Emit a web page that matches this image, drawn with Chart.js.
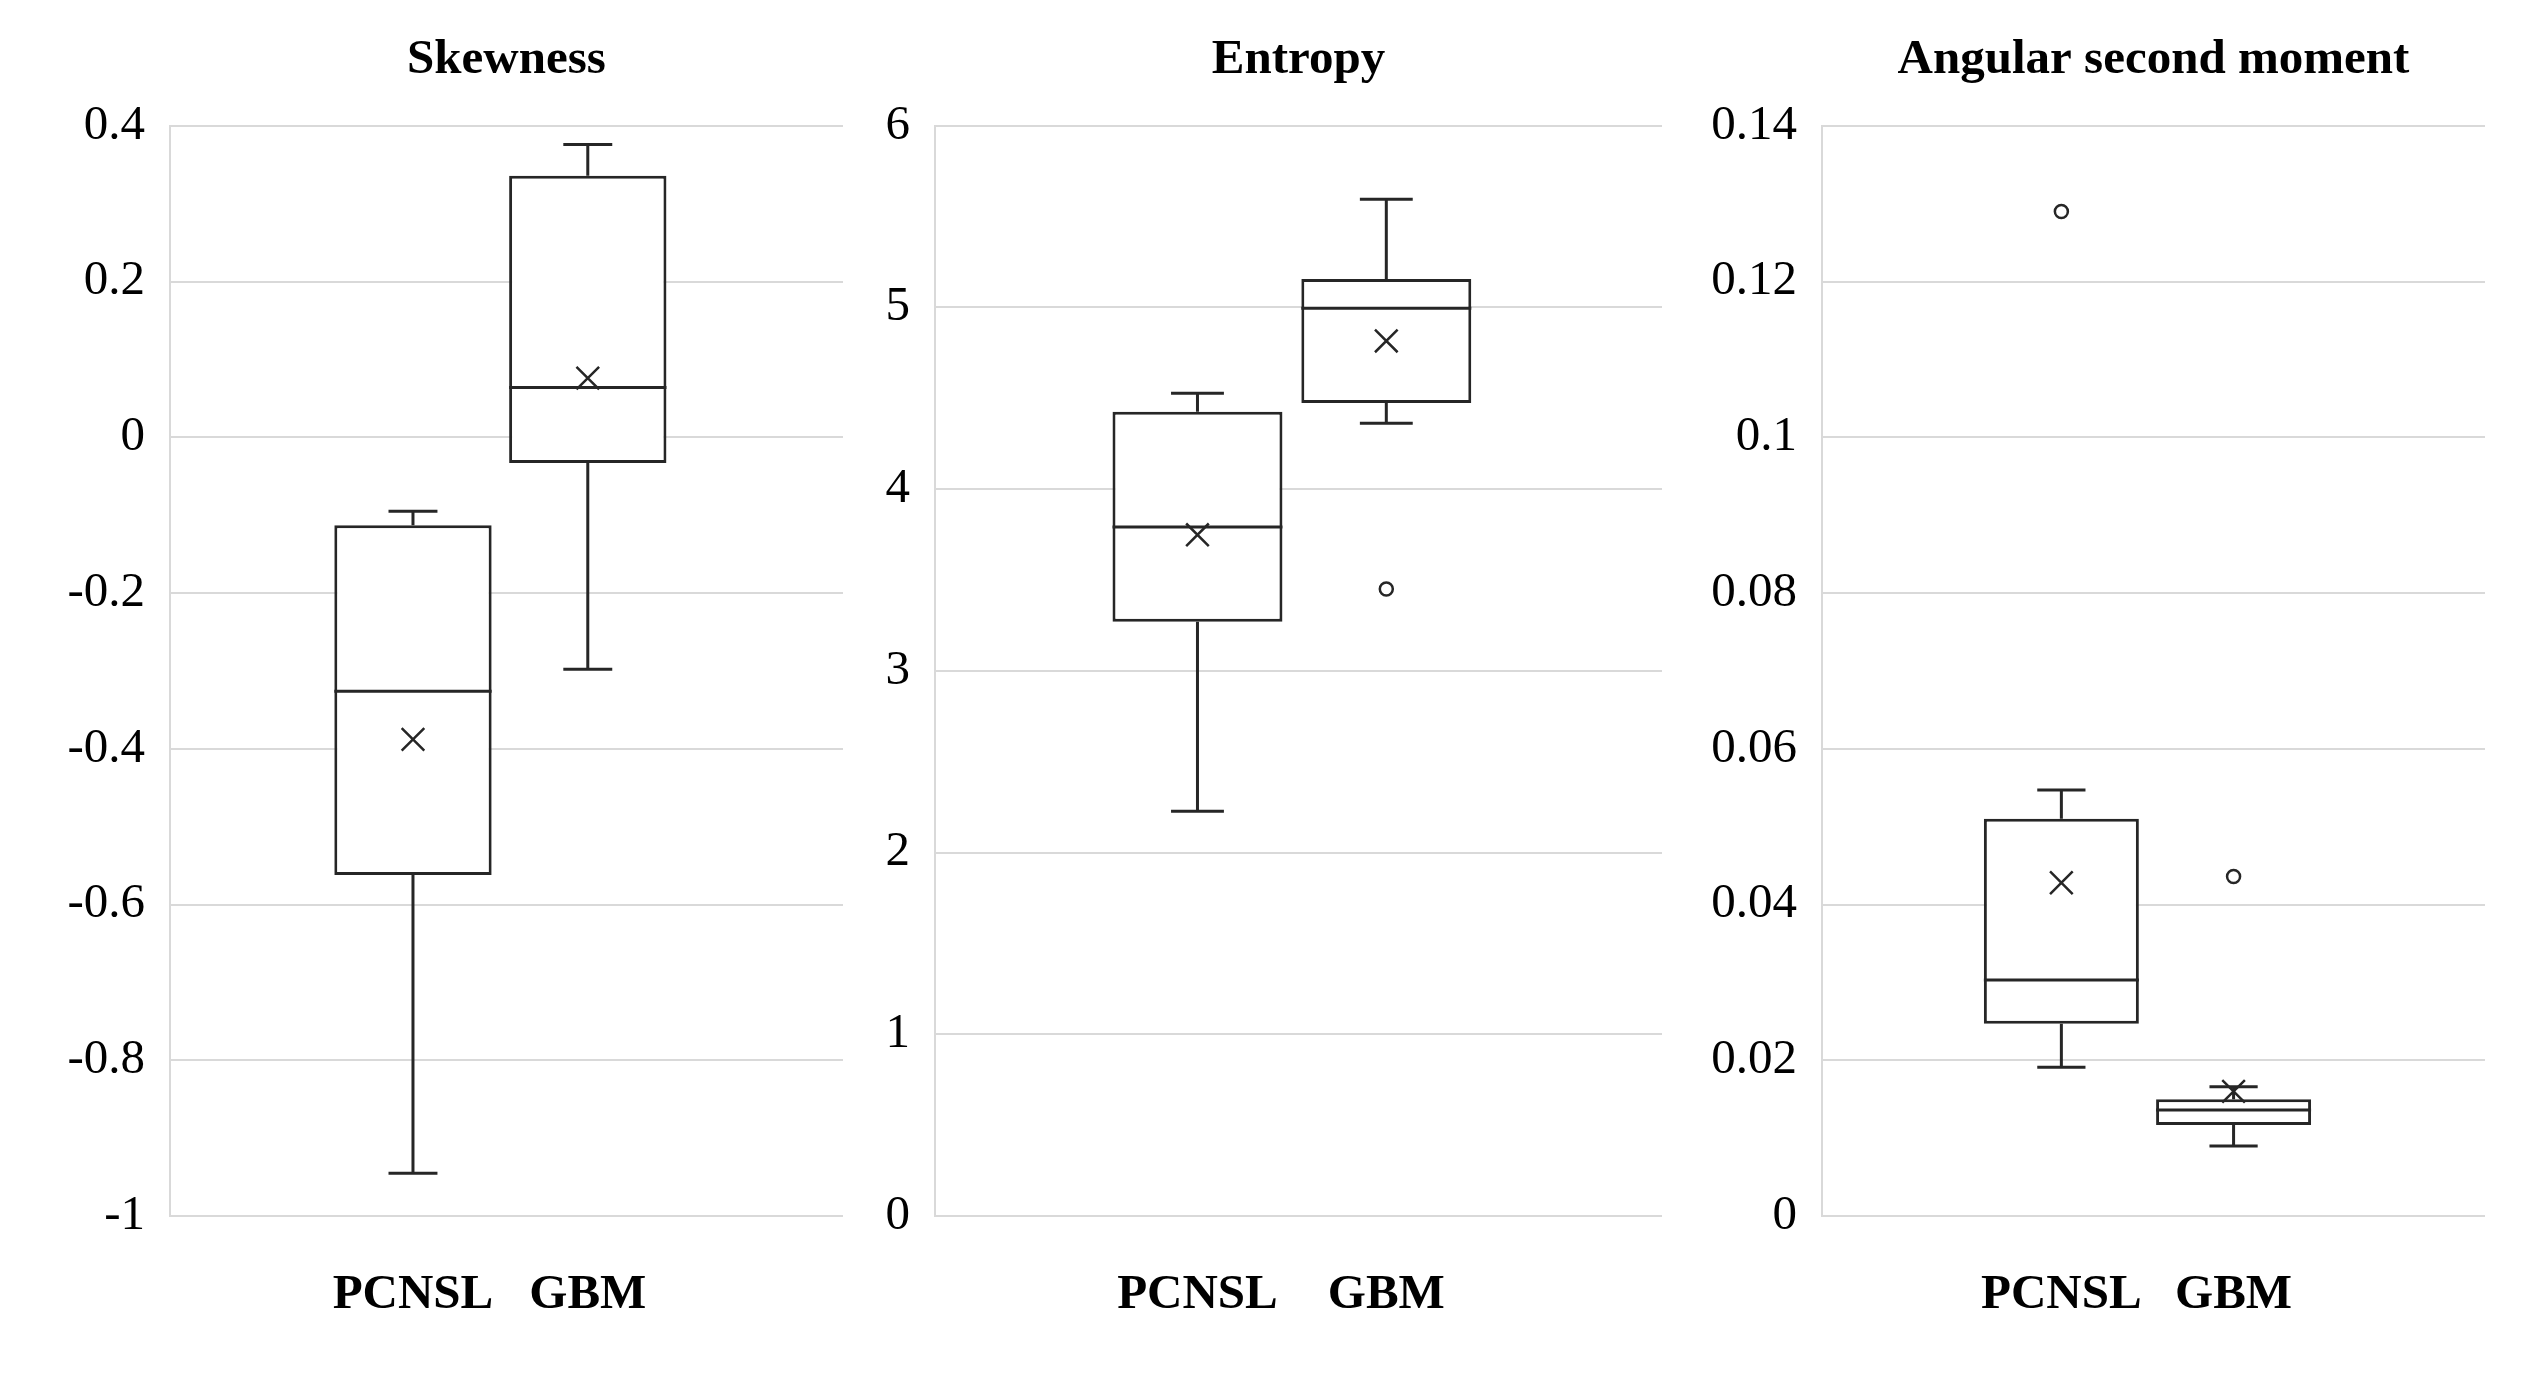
<!DOCTYPE html>
<html>
<head>
<meta charset="utf-8">
<title>Skewness, Entropy, Angular second moment</title>
<script src="https://cdn.jsdelivr.net/npm/chart.js@4"></script>
<style>
  html, body { margin: 0; padding: 0; background: #ffffff; }
  body { width: 2525px; height: 1391px; position: relative; overflow: hidden; }
  .panel { position: absolute; top: 0; height: 1391px; }
</style>
</head>
<body>
<div class="panel" id="p1" style="left:0px;width:880px;"><canvas id="skewChart"></canvas></div>
<div class="panel" id="p2" style="left:880px;width:820px;"><canvas id="entropyChart"></canvas></div>
<div class="panel" id="p3" style="left:1700px;width:825px;"><canvas id="asmChart"></canvas></div>
<script>
// Groups
const groups = ["PCNSL", "GBM"];

// Skewness
const skewMin = [-0.945, -0.298];
const skewQ1 = [-0.562, -0.033];
const skewMedian = [-0.326, 0.064];
const skewQ3 = [-0.113, 0.336];
const skewMax = [-0.095, 0.376];
const skewMean = [-0.388, 0.076];
const skewOutliers = [[], []];
const skewTicks = [-1, -0.8, -0.6, -0.4, -0.2, 0, 0.2, 0.4];
const skewTickLabels = ["-1", "-0.8", "-0.6", "-0.4", "-0.2", "0", "0.2", "0.4"];

// Entropy
const entMin = [2.228, 4.363];
const entQ1 = [3.271, 4.475];
const entMedian = [3.792, 4.996];
const entQ3 = [4.426, 5.157];
const entMax = [4.528, 5.596];
const entMean = [3.749, 4.816];
const entOutliers = [[], [3.451]];
const entTicks = [0, 1, 2, 3, 4, 5, 6];
const entTickLabels = ["0", "1", "2", "3", "4", "5", "6"];

// Angular second moment
const asmMin = [0.0191, 0.0090];
const asmQ1 = [0.0247, 0.0117];
const asmMedian = [0.0303, 0.0136];
const asmQ3 = [0.0510, 0.0150];
const asmMax = [0.0547, 0.0166];
const asmMean = [0.0428, 0.0160];
const asmOutliers = [[0.129], [0.0436]];
const asmTicks = [0, 0.02, 0.04, 0.06, 0.08, 0.1, 0.12, 0.14];
const asmTickLabels = ["0", "0.02", "0.04", "0.06", "0.08", "0.1", "0.12", "0.14"];

const lineColor = "#262626";
const gridColor = "#d9d9d9";
const fontFamily = "'Liberation Serif', 'Times New Roman', serif";

// whiskers and median line, drawn right after the box bars
function whiskerPlugin(mins, medians, q1s, q3s, maxs) {
  return {
    id: "whiskers",
    afterDatasetDraw: function (chart, args) {
      if (args.index !== 0) return;
      const ctx = chart.ctx;
      const xScale = chart.scales.x;
      const yScale = chart.scales.y;
      const bars = chart.getDatasetMeta(0).data;

      ctx.save();
      ctx.strokeStyle = lineColor;
      ctx.lineWidth = 3;
      ctx.lineCap = "butt";

      groups.forEach(function (g, i) {
        const cx = xScale.getPixelForValue(i + 1);
        const capHalf = xScale.getPixelForValue(i + 1.14) - cx;
        const boxHalf = bars[i].width / 2;

        const yMin = yScale.getPixelForValue(mins[i]);
        const yQ1 = yScale.getPixelForValue(q1s[i]);
        const yQ3 = yScale.getPixelForValue(q3s[i]);
        const yMax = yScale.getPixelForValue(maxs[i]);
        const yMed = yScale.getPixelForValue(medians[i]);

        ctx.beginPath();
        // lower whisker + cap
        ctx.moveTo(cx, yQ1);
        ctx.lineTo(cx, yMin);
        ctx.moveTo(cx - capHalf, yMin);
        ctx.lineTo(cx + capHalf, yMin);
        // upper whisker + cap
        ctx.moveTo(cx, yQ3);
        ctx.lineTo(cx, yMax);
        ctx.moveTo(cx - capHalf, yMax);
        ctx.lineTo(cx + capHalf, yMax);
        // median
        ctx.moveTo(cx - boxHalf, yMed);
        ctx.lineTo(cx + boxHalf, yMed);
        ctx.stroke();
      });

      ctx.restore();
    }
  };
}

function makeBoxChart(canvasId, title, yWidth, padRight, stats, ticks, tickLabels) {
  const boxData = groups.map(function (g, i) {
    return { x: i + 1, y: [stats.q1[i], stats.q3[i]] };
  });
  const meanData = groups.map(function (g, i) {
    return { x: i + 1, y: stats.mean[i] };
  });
  const outlierData = [];
  groups.forEach(function (g, i) {
    stats.outliers[i].forEach(function (v) {
      outlierData.push({ x: i + 1, y: v });
    });
  });

  return new Chart(document.getElementById(canvasId), {
    type: "bar",
    data: {
      datasets: [
        {
          label: "box",
          data: boxData,
          order: 2,
          backgroundColor: "#ffffff",
          borderColor: lineColor,
          borderWidth: 3,
          borderSkipped: false,
          categoryPercentage: 1,
          barPercentage: 0.9
        },
        {
          type: "scatter",
          label: "mean",
          data: meanData,
          order: 1,
          pointStyle: "crossRot",
          pointRadius: 16,
          pointBorderWidth: 2.5,
          pointBorderColor: lineColor,
          pointBackgroundColor: lineColor
        },
        {
          type: "scatter",
          label: "outliers",
          data: outlierData,
          order: 0,
          pointStyle: "circle",
          pointRadius: 6.5,
          pointBorderWidth: 2.5,
          pointBorderColor: lineColor,
          pointBackgroundColor: "#ffffff"
        }
      ]
    },
    options: {
      responsive: true,
      maintainAspectRatio: false,
      devicePixelRatio: 1,
      animation: false,
      layout: { padding: { top: 0, right: padRight, bottom: 0, left: 0 } },
      plugins: {
        legend: { display: false },
        tooltip: { enabled: false },
        title: {
          display: true,
          text: title,
          fullSize: false,
          color: "#000000",
          font: { family: fontFamily, size: 49, weight: "bold", lineHeight: 1.2 },
          padding: { top: 31, bottom: 36 }
        }
      },
      scales: {
        x: {
          type: "linear",
          min: -0.39,
          max: 3.46,
          offset: false,
          grid: { display: false, drawTicks: false },
          border: { display: false },
          afterBuildTicks: function (scale) {
            scale.ticks = groups.map(function (g, i) {
              return { value: i + 1 };
            });
          },
          afterFit: function (scale) {
            scale.height = 175;
          },
          ticks: {
            padding: 50,
            autoSkip: false,
            maxRotation: 0,
            color: "#000000",
            font: { family: fontFamily, size: 49, weight: "bold" },
            callback: function (value, index) {
              return groups[index];
            }
          }
        },
        y: {
          type: "linear",
          min: ticks[0],
          max: ticks[ticks.length - 1],
          grid: { color: gridColor, lineWidth: 2, drawTicks: false },
          border: { display: true, color: gridColor, width: 2 },
          afterBuildTicks: function (scale) {
            scale.ticks = ticks.map(function (v) {
              return { value: v };
            });
          },
          afterFit: function (scale) {
            scale.width = yWidth;
          },
          ticks: {
            padding: 25,
            color: "#000000",
            font: { family: fontFamily, size: 49 },
            callback: function (value, index) {
              return tickLabels[index];
            }
          }
        }
      }
    },
    plugins: [whiskerPlugin(stats.min, stats.median, stats.q1, stats.q3, stats.max)]
  });
}

makeBoxChart("skewChart", "Skewness", 170, 37, {
  min: skewMin, q1: skewQ1, median: skewMedian, q3: skewQ3, max: skewMax,
  mean: skewMean, outliers: skewOutliers
}, skewTicks, skewTickLabels);

makeBoxChart("entropyChart", "Entropy", 55, 38, {
  min: entMin, q1: entQ1, median: entMedian, q3: entQ3, max: entMax,
  mean: entMean, outliers: entOutliers
}, entTicks, entTickLabels);

makeBoxChart("asmChart", "Angular second moment", 122, 40, {
  min: asmMin, q1: asmQ1, median: asmMedian, q3: asmQ3, max: asmMax,
  mean: asmMean, outliers: asmOutliers
}, asmTicks, asmTickLabels);
</script>
</body>
</html>
